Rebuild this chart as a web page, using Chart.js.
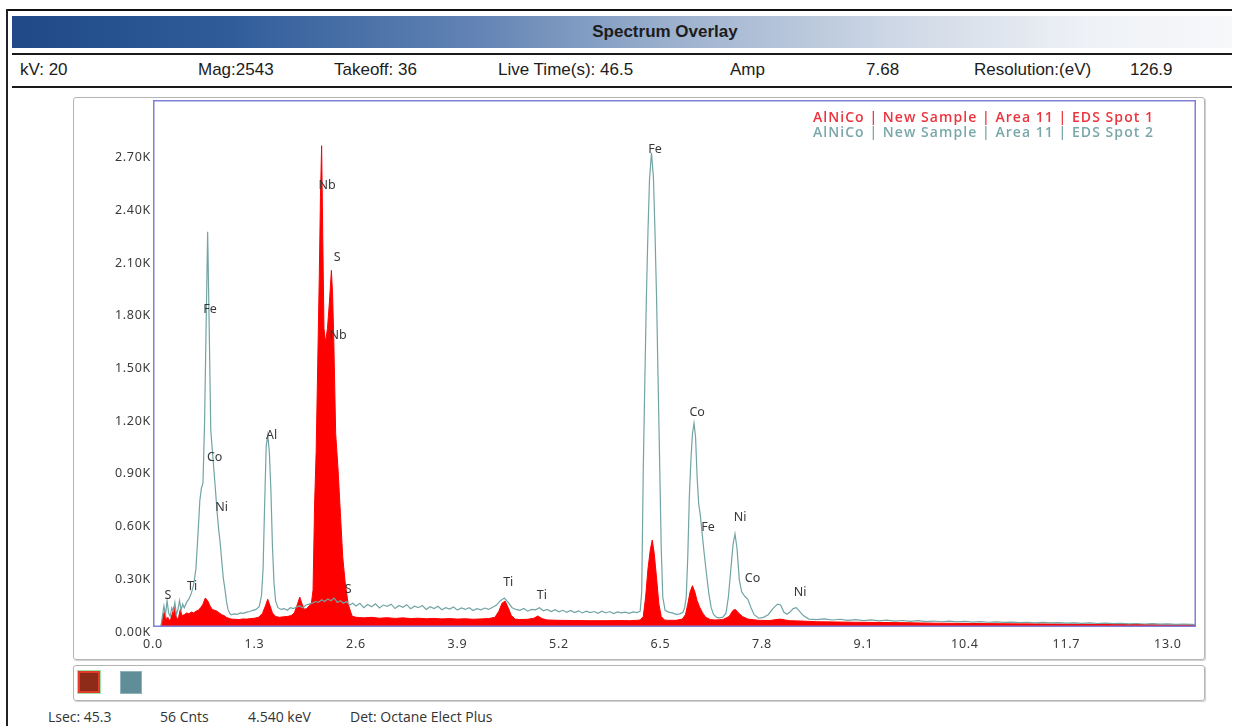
<!DOCTYPE html>
<html><head><meta charset="utf-8">
<script src="https://cdn.jsdelivr.net/npm/chart.js@4.4.0/dist/chart.umd.min.js"></script>
<style>
html,body{margin:0;padding:0;}
body{width:1241px;height:726px;overflow:hidden;background:#fff;position:relative;font-family:"Liberation Sans",Arial,sans-serif;}
.abs{position:absolute;}
#frameTop{left:8px;top:9px;width:1224px;height:2px;background:#111;}
#frameLeft{left:6px;top:9px;width:2px;height:717px;background:#222;}
#titleBar{left:12px;top:16px;width:1220px;height:32px;background:linear-gradient(to right,#1f4987 0%,#305d9a 18%,#6283b4 38%,#9fb3cf 55%,#cdd7e5 72%,#eef1f6 88%,#f7f8fa 100%);}
#title{left:12px;top:16px;height:32px;line-height:32px;text-align:center;font-weight:bold;font-size:17px;color:#1c1c1c;}
#line2{left:12px;top:53px;width:1220px;height:2px;background:#1a1a1a;}
#line3{left:12px;top:86px;width:1220px;height:2px;background:#1a1a1a;}
.info{top:60px;font-size:17px;color:#1c1c1c;white-space:nowrap;}
#plotFrame{left:73px;top:97px;width:1130px;height:561px;border:1px solid #b4b4b4;border-radius:3px;box-shadow:1px 1px 1px #cfcfcf;}
#chartBox{left:73px;top:97px;width:1132px;height:563px;}
#legendBox{left:73px;top:665px;width:1130px;height:34px;border:1px solid #b4b4b4;border-radius:3px;box-shadow:1px 1px 1px #cfcfcf;}
#sw1{left:78px;top:671px;width:18px;height:18px;background:#8e2a18;border:2px solid #e23a2a;outline:1px solid #9be3a8;}
#sw2{left:120px;top:671px;width:20px;height:21px;background:#5f8e98;border:1px solid #8fb3ba;}
.foot{top:707px;font-family:"Open Sans","Noto Sans",sans-serif;font-size:14px;color:#333;white-space:nowrap;}
</style></head><body>
<div class="abs" id="frameTop"></div>
<div class="abs" id="frameLeft"></div>
<div class="abs" id="titleBar"></div>
<div class="abs" id="title" style="width:1306px;">Spectrum Overlay</div>
<div class="abs" id="line2"></div>
<div class="abs info" style="left:20px;">kV: 20</div>
<div class="abs info" style="left:198px;">Mag:2543</div>
<div class="abs info" style="left:334px;">Takeoff: 36</div>
<div class="abs info" style="left:498px;">Live Time(s): 46.5</div>
<div class="abs info" style="left:730px;">Amp</div>
<div class="abs info" style="left:866px;">7.68</div>
<div class="abs info" style="left:974px;">Resolution:(eV)</div>
<div class="abs info" style="left:1130px;">126.9</div>
<div class="abs" id="line3"></div>
<div class="abs" id="plotFrame"></div>
<div class="abs" id="chartBox"><canvas id="c" width="1132" height="563"></canvas></div>
<div class="abs" id="legendBox"></div>
<div class="abs" id="sw1"></div>
<div class="abs" id="sw2"></div>
<div class="abs foot" style="left:48px;">Lsec: 45.3</div>
<div class="abs foot" style="left:160px;">56 Cnts</div>
<div class="abs foot" style="left:248px;">4.540 keV</div>
<div class="abs foot" style="left:350px;">Det: Octane Elect Plus</div>
<script>
// ---------- data ----------
const xTicks = [0, 1.3, 2.6, 3.9, 5.2, 6.5, 7.8, 9.1, 10.4, 11.7, 13.0];
const yTicks = [0, 300, 600, 900, 1200, 1500, 1800, 2100, 2400, 2700];
const seriesNames = ["AlNiCo | New Sample | Area 11 | EDS Spot 1", "AlNiCo | New Sample | Area 11 | EDS Spot 2"];

// Spot 1 (red, filled)
const spot1Energy = [0.10,0.12,0.14,0.155,0.17,0.19,0.21,0.23,0.25,0.27,0.29,0.31,0.33,0.35,0.37,0.40,0.43,0.46,0.49,0.52,0.55,0.58,0.61,0.64,0.67,0.70,0.73,0.76,0.79,0.82,0.85,0.88,0.91,0.94,0.97,1.00,1.05,1.10,1.15,1.20,1.25,1.30,1.35,1.40,1.44,1.47,1.50,1.53,1.57,1.62,1.67,1.72,1.77,1.81,1.85,1.88,1.91,1.94,1.97,2.00,2.03,2.05,2.07,2.09,2.11,2.13,2.145,2.16,2.175,2.19,2.21,2.235,2.26,2.285,2.30,2.315,2.34,2.37,2.40,2.43,2.46,2.50,2.55,2.60,2.70,2.80,2.90,3.00,3.10,3.20,3.30,3.40,3.50,3.60,3.70,3.80,3.90,4.00,4.10,4.20,4.30,4.38,4.43,4.47,4.51,4.55,4.59,4.64,4.70,4.80,4.88,4.93,4.98,5.05,5.20,5.40,5.60,5.80,6.00,6.10,6.20,6.24,6.28,6.31,6.34,6.37,6.395,6.42,6.45,6.48,6.51,6.55,6.60,6.70,6.78,6.82,6.85,6.88,6.91,6.94,6.97,7.00,7.04,7.08,7.14,7.20,7.30,7.38,7.43,7.46,7.50,7.55,7.62,7.75,7.90,8.03,8.15,8.30,8.50,9.00,9.50,10.00,10.50,11.00,11.50,12.00,12.50,13.00,13.36];
const spot1Counts = [0,40,80,90,40,55,35,50,80,115,70,40,60,100,65,70,80,75,85,80,90,95,110,130,165,150,120,100,95,90,80,70,65,55,50,45,44,42,46,45,48,50,55,75,120,158,120,80,60,55,58,60,65,80,130,170,130,100,105,120,140,210,700,1000,1500,2000,2450,2740,2200,1700,1620,1700,1850,2030,1900,1650,1100,900,650,400,260,130,62,55,52,55,50,53,49,52,48,50,47,49,46,48,45,47,44,46,48,55,90,135,148,110,65,45,42,44,50,63,48,40,38,37,36,36,37,36,38,40,60,170,330,440,495,420,280,130,60,40,38,38,45,70,130,200,235,200,150,115,80,55,42,40,42,60,95,100,80,60,45,38,37,45,36,34,30,27,25,22,20,18,17,15,14,12,12];

// Spot 2 (teal line)
const spot2Energy = [0.10,0.12,0.14,0.16,0.18,0.20,0.22,0.24,0.26,0.28,0.30,0.32,0.34,0.36,0.38,0.40,0.43,0.46,0.49,0.52,0.55,0.58,0.60,0.62,0.64,0.66,0.68,0.70,0.72,0.74,0.77,0.80,0.82,0.84,0.86,0.88,0.90,0.92,0.94,0.96,0.98,1.00,1.04,1.08,1.12,1.16,1.20,1.24,1.28,1.32,1.36,1.39,1.41,1.43,1.45,1.47,1.49,1.51,1.53,1.55,1.57,1.60,1.64,1.68,1.72,1.76,1.80,1.84,1.88,1.92,1.96,2.00,2.04,2.08,2.12,2.16,2.20,2.24,2.28,2.32,2.36,2.40,2.44,2.48,2.52,2.56,2.60,2.65,2.70,2.75,2.80,2.85,2.90,2.95,3.00,3.05,3.10,3.15,3.20,3.25,3.30,3.35,3.40,3.45,3.50,3.55,3.60,3.65,3.70,3.75,3.80,3.85,3.90,3.95,4.00,4.05,4.10,4.15,4.20,4.25,4.30,4.35,4.40,4.45,4.50,4.55,4.60,4.65,4.70,4.75,4.80,4.85,4.90,4.95,5.00,5.05,5.10,5.15,5.20,5.25,5.30,5.35,5.40,5.45,5.50,5.55,5.60,5.65,5.70,5.75,5.80,5.85,5.90,5.95,6.00,6.05,6.10,6.15,6.20,6.24,6.26,6.28,6.30,6.32,6.34,6.36,6.385,6.41,6.43,6.45,6.47,6.49,6.51,6.53,6.56,6.60,6.65,6.70,6.75,6.79,6.81,6.83,6.85,6.87,6.89,6.91,6.93,6.95,6.97,6.99,7.01,7.03,7.06,7.09,7.12,7.15,7.18,7.22,7.26,7.30,7.34,7.37,7.40,7.43,7.455,7.48,7.51,7.54,7.58,7.62,7.66,7.70,7.76,7.82,7.88,7.94,8.00,8.04,8.08,8.12,8.16,8.20,8.24,8.28,8.33,8.40,8.50,8.60,8.70,8.80,8.90,9.00,9.10,9.20,9.30,9.40,9.50,9.60,9.70,9.80,9.90,10.00,10.10,10.20,10.30,10.40,10.50,10.60,10.70,10.80,10.90,11.00,11.10,11.20,11.30,11.40,11.50,11.60,11.70,11.80,11.90,12.00,12.10,12.20,12.30,12.40,12.50,12.60,12.70,12.80,12.90,13.00,13.10,13.20,13.30,13.36];
const spot2Counts = [0,60,120,70,150,80,60,110,90,140,70,100,150,95,130,110,140,160,190,240,330,560,720,790,820,1150,1700,2250,1700,1120,950,780,660,560,480,380,280,220,150,100,80,70,75,72,80,78,85,88,95,100,115,180,330,700,1030,1090,1000,780,460,250,150,110,100,105,95,110,105,115,120,110,125,130,135,145,140,155,145,160,150,165,140,150,135,145,125,135,120,135,110,128,115,132,108,125,118,130,105,122,112,127,104,118,110,122,100,115,105,118,98,110,102,114,96,108,100,110,94,104,98,108,100,112,125,150,165,140,110,100,95,105,90,100,98,110,92,100,88,98,86,95,84,94,82,92,80,90,82,88,78,90,80,88,76,86,80,85,78,86,82,90,200,900,1400,1880,2250,2550,2700,2560,2250,1880,1400,930,450,170,95,85,80,72,75,85,110,170,400,740,950,1100,1160,1080,850,700,640,550,420,300,190,110,72,55,52,56,80,170,320,470,530,450,270,200,175,158,110,70,50,55,70,105,130,125,85,72,85,105,110,90,65,45,42,46,40,44,38,42,36,40,35,39,34,37,32,36,31,34,30,33,29,32,28,31,27,29,26,28,25,27,24,26,23,25,22,24,21,23,20,22,19,21,18,20,17,19,16,18,15,17,15,14];

// Peak identification labels (energy keV, count level of the label)
const peakNames  = ["S","Ti","Fe","Co","Ni","Al","Nb","S","Nb","S","Ti","Ti","Fe","Co","Fe","Ni","Co","Ni"];
const peakEnergy = [0.19,0.50,0.73,0.79,0.88,1.52,2.23,2.36,2.37,2.50,4.55,4.98,6.43,6.97,7.11,7.52,7.68,8.29];
const peakCounts = [182,233,1805,968,683,1093,2516,2101,1662,211,256,182,2716,1224,569,621,279,194];

const redColor = 'rgb(255,0,0)';
const tealColor = 'rgb(114,164,164)';

function pts(e, c) { return e.map((v, i) => ({ x: v, y: c[i] })); }

const decor = {
  id: 'decor',
  beforeDraw(chart) { chart.ctx.letterSpacing = '0.7px'; },
  afterDatasetsDraw(chart) {
    const { ctx, chartArea: a, scales: { x, y } } = chart;
    ctx.save();
    ctx.letterSpacing = '0px';
    ctx.strokeStyle = 'rgb(128,128,218)';
    ctx.lineWidth = 1.5;
    ctx.strokeRect(a.left + 0.75, a.top + 0.75, a.right - a.left - 1.5, a.bottom - a.top - 1.5);
    // peak labels
    ctx.font = '12.5px "Noto Sans", "Open Sans", sans-serif';
    ctx.fillStyle = '#383838';
    ctx.textAlign = 'center';
    ctx.textBaseline = 'middle';
    peakNames.forEach((n, i) => {
      ctx.fillText(n, x.getPixelForValue(peakEnergy[i]), y.getPixelForValue(peakCounts[i]));
    });
    // series legend text
    const cols = ['rgb(236,52,62)', 'rgb(122,168,170)'];
    ctx.textAlign = 'right';
    ctx.font = '600 14px "Open Sans", sans-serif';
    chart.data.datasets.forEach((ds, i) => {
      const txt = ds.label;
      ctx.letterSpacing = '0px';
      const w = ctx.measureText(txt).width;
      const ls = Math.max(-1, (340 - w) / (txt.length - 1));
      ctx.letterSpacing = ls.toFixed(2) + 'px';
      ctx.fillStyle = cols[i];
      ctx.fillText(txt, a.right - 43 + ls, a.top + 18 + i * 15);
    });
    ctx.restore();
    ctx.letterSpacing = '0px';
  }
};

new Chart(document.getElementById('c'), {
  type: 'line',
  data: {
    datasets: [
      { label: seriesNames[0], data: pts(spot1Energy, spot1Counts), borderColor: redColor, backgroundColor: redColor, borderWidth: 1, fill: 'origin', pointRadius: 0, tension: 0, order: 1 },
      { label: seriesNames[1], data: pts(spot2Energy, spot2Counts), borderColor: tealColor, backgroundColor: 'rgba(0,0,0,0)', borderWidth: 1.2, fill: false, pointRadius: 0, tension: 0, order: 0 }
    ]
  },
  options: {
    responsive: false,
    animation: false,
    devicePixelRatio: 1,
    parsing: false,
    layout: { padding: { left: 0, right: 9, top: 3, bottom: 0 } },
    plugins: { legend: { display: false }, tooltip: { enabled: false } },
    scales: {
      x: {
        type: 'linear', min: 0, max: 13.36,
        grid: { display: false, drawTicks: false },
        border: { display: false },
        afterBuildTicks(axis) { axis.ticks = xTicks.map(v => ({ value: v })); },
        afterFit(axis) { axis.height = 33; axis.paddingLeft = 0; axis.paddingRight = 0; },
        ticks: { padding: 10, color: '#3a3a3a', font: { size: 12.5, family: '"Noto Sans", "Open Sans", sans-serif' }, callback: v => Number(v).toFixed(1), autoSkip: false, maxRotation: 0 }
      },
      y: {
        type: 'linear', min: 0, max: 3000,
        grid: { display: false, drawTicks: false },
        border: { display: false },
        afterBuildTicks(axis) { axis.ticks = yTicks.map(v => ({ value: v })); },
        afterFit(axis) { axis.width = 80; axis.paddingTop = 0; axis.paddingBottom = 0; },
        ticks: { padding: 2, labelOffset: 5, color: '#3a3a3a', font: { size: 12.5, family: '"Noto Sans", "Open Sans", sans-serif' }, callback: v => (v / 1000).toFixed(2) + 'K', autoSkip: false }
      }
    }
  },
  plugins: [decor]
});
</script>
</body></html>
